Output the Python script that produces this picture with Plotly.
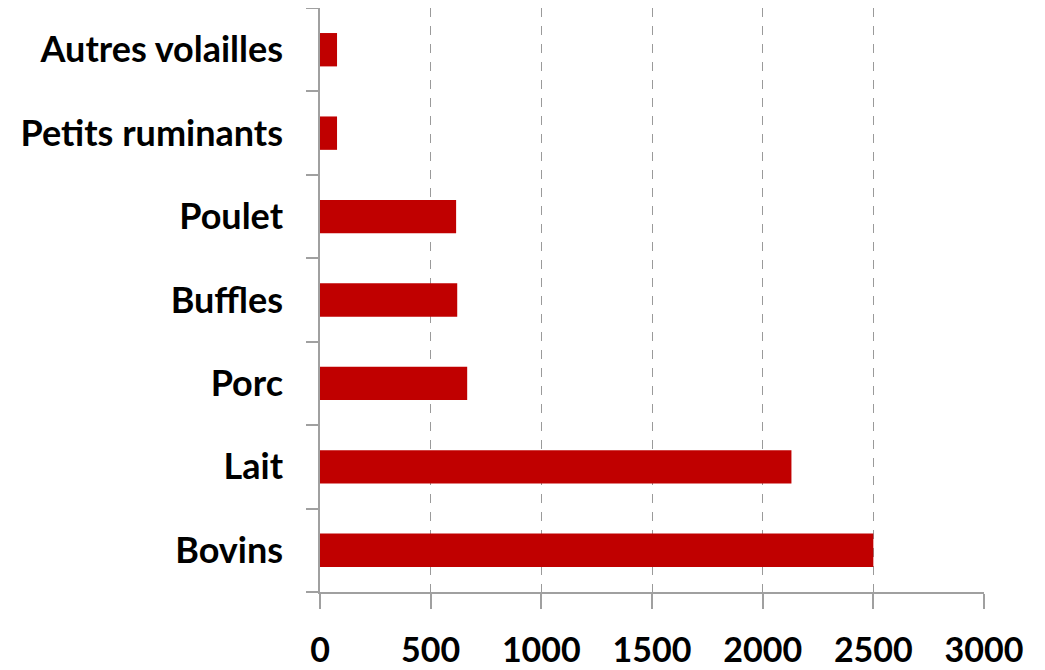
import plotly.graph_objects as go

# Categories, bottom to top
categories = ["Bovins", "Lait", "Porc", "Buffles", "Poulet", "Petits ruminants", "Autres volailles"]
values = [2500, 2130, 665, 620, 615, 77, 77]
x_ticks = [0, 500, 1000, 1500, 2000, 2500, 3000]

fig = go.Figure()

fig.add_trace(
    go.Bar(
        x=values,
        y=categories,
        orientation="h",
        width=0.4,
        marker=dict(color="#C00000", line=dict(width=0)),
    )
)

y_font = dict(family="Lato, Liberation Sans, Arial", size=36, color="black", weight="bold")
x_font = dict(family="Lato, Liberation Sans, Arial", size=34, color="black", weight="bold")

fig.update_xaxes(
    range=[0, 3000],
    tickvals=x_ticks,
    ticktext=[str(v) for v in x_ticks],
    showgrid=True,
    gridcolor="#9a9a9a",
    griddash="dash",
    gridwidth=1,
    zeroline=False,
    showline=True,
    linecolor="#a0a0a0",
    linewidth=1.5,
    ticks="outside",
    ticklen=15,
    tickcolor="#a0a0a0",
    tickwidth=1.5,
    tickfont=x_font,
    ticklabelstandoff=12,
    automargin=False,
)

fig.update_yaxes(
    categoryorder="array",
    categoryarray=categories,
    range=[-0.5, 6.5],
    showline=True,
    linecolor="#a0a0a0",
    linewidth=1.5,
    ticks="outside",
    tickson="boundaries",
    ticklen=12,
    tickcolor="#a0a0a0",
    tickwidth=1.5,
    showgrid=False,
    tickfont=y_font,
    ticklabelstandoff=28,
    automargin=False,
)

# the page body adds an 8px offset, so the figure is sized to fit the window
fig.update_layout(
    width=1037,
    height=662,
    margin=dict(l=312, r=61, t=0, b=78),
    plot_bgcolor="white",
    paper_bgcolor="white",
    showlegend=False,
)

fig.write_html("out.html")
